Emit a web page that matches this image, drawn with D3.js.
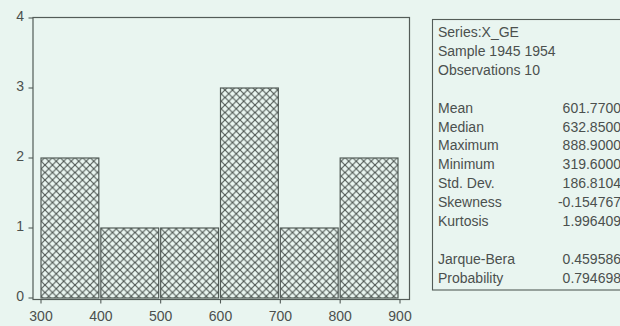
<!DOCTYPE html>
<html>
<head>
<meta charset="utf-8">
<script src="https://cdn.jsdelivr.net/npm/d3@7"></script>
<style>
  html, body { margin: 0; padding: 0; background: #e9f5f0; }
  svg { display: block; }
  text { font-family: "Liberation Sans", Arial, sans-serif; fill: #4b504e; }
</style>
</head>
<body>
<svg id="chart" width="620" height="326"></svg>
<script>
// Histogram of X_GE: bin edges and observation counts per bin
const binEdges = [300, 400, 500, 600, 700, 800, 900];
const binCounts = [2, 1, 1, 3, 1, 2];
const xTicks = [300, 400, 500, 600, 700, 800, 900];
const yTicks = [0, 1, 2, 3, 4];

// Descriptive statistics panel
const headerLines = ["Series:X_GE", "Sample 1945 1954", "Observations 10"];
const statNames = ["Mean", "Median", "Maximum", "Minimum", "Std. Dev.", "Skewness", "Kurtosis"];
const statValues = ["601.7700", "632.8500", "888.9000", "319.6000", "186.8104", "-0.154767", "1.996409"];
const testNames = ["Jarque-Bera", "Probability"];
const testValues = ["0.459586", "0.794698"];

const ink = "#535c58";
const svg = d3.select("#chart");

const x = d3.scaleLinear().domain([300, 900]).range([41, 400]);
const y = d3.scaleLinear().domain([0, 4]).range([298, 18]);

// cross-hatch fill
const defs = svg.append("defs");
const p = 7.5;
const pat = defs.append("pattern")
  .attr("id", "hatch")
  .attr("patternUnits", "userSpaceOnUse")
  .attr("width", p).attr("height", p);
pat.append("path")
  .attr("d", `M0,0L${p},${p}M0,${p}L${p},0`)
  .attr("stroke", "#4f5753").attr("stroke-width", 1.15).attr("fill", "none");

// plot frame
const frame = { left: 33, right: 409.5, top: 17.5, bottom: 299.5 };
svg.append("rect")
  .attr("x", frame.left).attr("y", frame.top)
  .attr("width", frame.right - frame.left).attr("height", frame.bottom - frame.top)
  .attr("fill", "none").attr("stroke", ink).attr("stroke-width", 1.2);

// bars
const bins = binCounts.map((c, i) => ({ lo: binEdges[i], hi: binEdges[i + 1], n: c }));
svg.append("g").selectAll("rect").data(bins).join("rect")
  .attr("x", d => x(d.lo))
  .attr("y", d => y(d.n))
  .attr("width", d => x(d.hi) - x(d.lo) - 2)
  .attr("height", d => y(0) - y(d.n))
  .attr("fill", "url(#hatch)")
  .attr("stroke", ink).attr("stroke-width", 1.2);

// y axis ticks and labels
const yg = svg.append("g");
yg.selectAll("line").data(yTicks).join("line")
  .attr("x1", 28.5).attr("x2", frame.left)
  .attr("y1", d => y(d)).attr("y2", d => y(d))
  .attr("stroke", ink).attr("stroke-width", 1.1);
yg.selectAll("text").data(yTicks).join("text")
  .attr("x", 24).attr("y", d => y(d) + 2.5)
  .attr("text-anchor", "end")
  .attr("font-size", 14)
  .text(d => d);

// x axis ticks and labels
const xg = svg.append("g");
xg.selectAll("line").data(xTicks).join("line")
  .attr("x1", d => x(d)).attr("x2", d => x(d))
  .attr("y1", frame.bottom).attr("y2", 303.5)
  .attr("stroke", ink).attr("stroke-width", 1.1);
xg.selectAll("text").data(xTicks).join("text")
  .attr("x", d => x(d)).attr("y", 320.5)
  .attr("text-anchor", "middle")
  .attr("font-size", 14)
  .text(d => d);

// statistics box
const box = svg.append("g");
box.append("rect")
  .attr("x", 432.5).attr("y", 19.5).attr("width", 220).attr("height", 270.5)
  .attr("fill", "none").attr("stroke", ink).attr("stroke-width", 1.1);

const rowStep = 18.9;
const base0 = 37;
const rows = [];
headerLines.forEach((t, i) => rows.push({ label: t, value: null, row: i }));
statNames.forEach((t, i) => rows.push({ label: t, value: statValues[i], row: 4 + i }));
testNames.forEach((t, i) => rows.push({ label: t, value: testValues[i], row: 12 + i }));

box.selectAll("text.lbl").data(rows).join("text")
  .attr("class", "lbl")
  .attr("x", 438).attr("y", d => base0 + d.row * rowStep)
  .attr("font-size", 14)
  .text(d => d.label);
box.selectAll("text.val").data(rows.filter(d => d.value !== null)).join("text")
  .attr("class", "val")
  .attr("x", 621).attr("y", d => base0 + d.row * rowStep)
  .attr("text-anchor", "end")
  .attr("font-size", 14)
  .text(d => d.value);
</script>
</body>
</html>
